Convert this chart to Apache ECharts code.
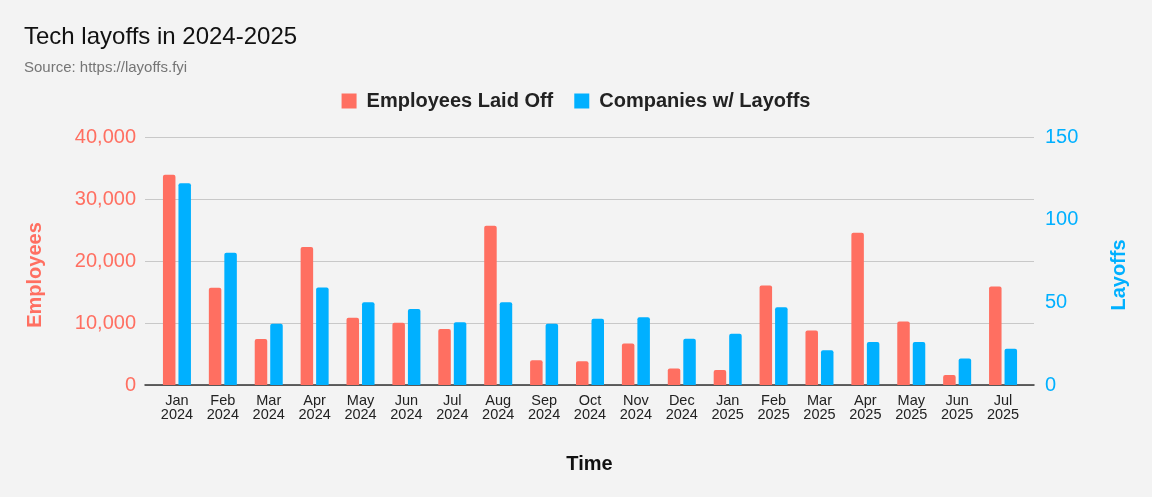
<!DOCTYPE html>
<html>
<head>
<meta charset="utf-8">
<title>Tech layoffs in 2024-2025</title>
<script src="https://cdn.jsdelivr.net/npm/echarts@6/dist/echarts.min.js"></script>
<style>
  html, body { margin: 0; padding: 0; background: #f3f3f3; }
  #main { width: 1152px; height: 497px; }
</style>
</head>
<body>
<div id="main"></div>
<script>
// data
var categories = ['Jan 2024', 'Feb 2024', 'Mar 2024', 'Apr 2024', 'May 2024', 'Jun 2024',
    'Jul 2024', 'Aug 2024', 'Sep 2024', 'Oct 2024', 'Nov 2024', 'Dec 2024',
    'Jan 2025', 'Feb 2025', 'Mar 2025', 'Apr 2025', 'May 2025', 'Jun 2025', 'Jul 2025'];
var employeesLaidOff = [33900, 15700, 7400, 22250, 10850, 10050, 9050, 25700, 4000,
    3850, 6700, 2650, 2400, 16050, 8800, 24550, 10250, 1600, 15900];
var companiesWithLayoffs = [122, 80, 37, 59, 50, 46, 38, 50, 37,
    40, 41, 28, 31, 47, 21, 26, 26, 16, 22];
var employeeTicks = [0, 10000, 20000, 30000, 40000];
var layoffTicks = [0, 50, 100, 150];

var RED = '#ff6f61';
var BLUE = '#00b0ff';
var FONT = 'Liberation Sans, Arial, sans-serif';

document.addEventListener('DOMContentLoaded', function() {
    var myChart = echarts.init(document.getElementById('main'));

    var option = {
        backgroundColor: '#f3f3f3',
        textStyle: { fontFamily: FONT },
        title: {
            text: 'Tech layoffs in 2024-2025',
            subtext: 'Source: https://layoffs.fyi',
            left: 24,
            top: 25,
            padding: 0,
            itemGap: 11,
            textStyle: { fontFamily: FONT, fontSize: 24, fontWeight: 'normal', color: '#111' },
            subtextStyle: { fontFamily: FONT, fontSize: 15, color: '#757575' }
        },
        legend: {
            data: ['Employees Laid Off', 'Companies w/ Layoffs'],
            top: 86,
            left: 'center',
            icon: 'rect',
            itemWidth: 15,
            itemHeight: 15,
            itemGap: 21,
            textStyle: { fontFamily: FONT, fontSize: 20, fontWeight: 'bold', color: '#222', padding: [0, 0, 0, 5] }
        },
        grid: [
            // wide grid: gridlines, baseline, value axes
            { left: 145, right: 118, top: 137, bottom: 112 },
            // inner grid: bars
            { left: 154, right: 126, top: 137, bottom: 112 }
        ],
        xAxis: [
            {
                gridIndex: 0,
                type: 'value',
                min: 0,
                max: 1,
                name: 'Time',
                nameLocation: 'middle',
                nameGap: 69,
                nameTextStyle: { fontFamily: FONT, fontSize: 20, fontWeight: 'bold', color: '#111' },
                axisLine: { show: true, onZero: false, lineStyle: { color: '#333', width: 1.5 } },
                axisTick: { show: false },
                axisLabel: { show: false },
                splitLine: { show: false }
            },
            {
                gridIndex: 1,
                type: 'category',
                data: categories,
                axisLine: { show: false },
                axisTick: { show: false },
                axisLabel: {
                    margin: 9,
                    fontSize: 14.5,
                    lineHeight: 14,
                    color: '#222',
                    formatter: function(v) { return v.replace(' ', '\n'); }
                }
            }
        ],
        yAxis: [
            {
                gridIndex: 0,
                type: 'value',
                position: 'left',
                min: employeeTicks[0],
                max: employeeTicks[employeeTicks.length - 1],
                interval: employeeTicks[1] - employeeTicks[0],
                name: 'Employees',
                nameLocation: 'middle',
                nameRotate: 90,
                nameGap: 100,
                nameTextStyle: { fontFamily: FONT, fontSize: 20, fontWeight: 'bold', color: RED, padding: [0, 28, 0, 0] },
                axisLine: { show: false },
                axisTick: { show: false },
                axisLabel: {
                    margin: 9,
                    fontSize: 20,
                    color: RED,
                    formatter: function(v) { return v.toLocaleString('en-US'); }
                },
                splitLine: { lineStyle: { color: '#c8c8c8', width: 1.2 } }
            },
            {
                gridIndex: 0,
                type: 'value',
                position: 'right',
                min: layoffTicks[0],
                max: layoffTicks[layoffTicks.length - 1],
                interval: layoffTicks[1] - layoffTicks[0],
                name: 'Layoffs',
                nameLocation: 'middle',
                nameRotate: 90,
                nameGap: 75,
                nameTextStyle: { fontFamily: FONT, fontSize: 20, fontWeight: 'bold', color: BLUE, padding: [0, 28, 0, 0] },
                axisLine: { show: false },
                axisTick: { show: false },
                axisLabel: { margin: 11, fontSize: 20, color: BLUE },
                splitLine: { show: false }
            },
            {
                gridIndex: 1,
                type: 'value',
                min: employeeTicks[0],
                max: employeeTicks[employeeTicks.length - 1],
                show: false
            },
            {
                gridIndex: 1,
                type: 'value',
                min: layoffTicks[0],
                max: layoffTicks[layoffTicks.length - 1],
                show: false
            }
        ],
        series: [
            {
                name: 'Employees Laid Off',
                type: 'bar',
                xAxisIndex: 1,
                yAxisIndex: 2,
                data: employeesLaidOff,
                barWidth: 12.5,
                barGap: '24%',
                itemStyle: { color: RED, borderRadius: [2, 2, 0, 0] }
            },
            {
                name: 'Companies w/ Layoffs',
                type: 'bar',
                xAxisIndex: 1,
                yAxisIndex: 3,
                data: companiesWithLayoffs,
                barWidth: 12.5,
                barGap: '24%',
                itemStyle: { color: BLUE, borderRadius: [2, 2, 0, 0] }
            }
        ]
    };

    option && myChart.setOption(option);
});
</script>
</body>
</html>
